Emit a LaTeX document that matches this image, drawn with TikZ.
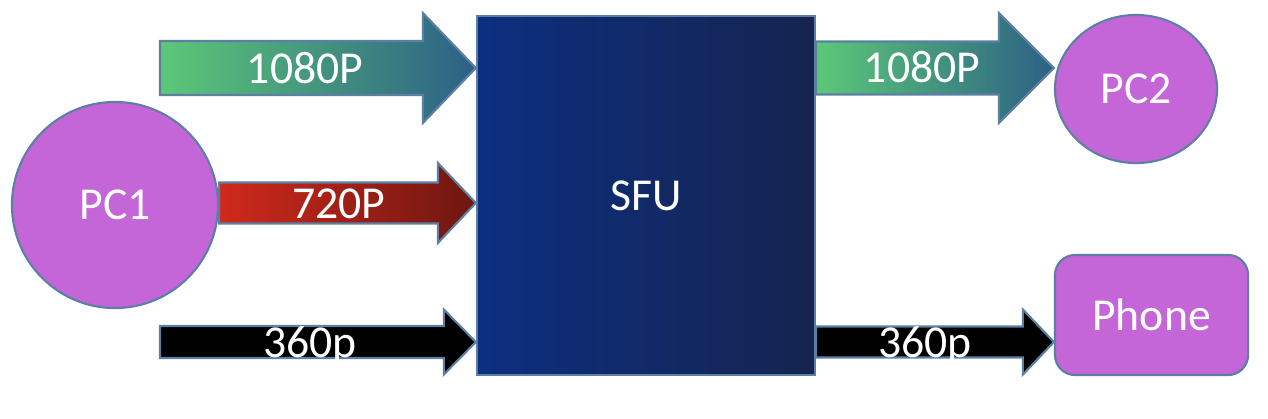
\documentclass[tikz,border=0pt]{standalone}
\usepackage{fontspec}
\setmainfont{Carlito}
\usetikzlibrary{shapes.geometric,calc}

\definecolor{paars}{HTML}{C566D8}
\definecolor{randblauw}{HTML}{5C7FA3}
\definecolor{sfulinks}{HTML}{0C2F80}
\definecolor{sfurechts}{HTML}{16244F}
\definecolor{groenlinks}{HTML}{5CC878}
\definecolor{groenmidden}{HTML}{4EAD7A}
\definecolor{groenrechts}{HTML}{2C6085}
\definecolor{roodlinks}{HTML}{D0291C}
\definecolor{roodmidden}{HTML}{B12418}
\definecolor{roodrechts}{HTML}{6E1610}

% blokpijl: stijl, begin, punt, halve breedte romp, halve breedte kop, lengte kop
\newcommand{\blokpijl}[6]{%
  \path[#1] ($(#2)+(0,-#4)$) -- ($(#3)+(-#6,-#4)$) -- ($(#3)+(-#6,-#5)$) -- (#3)
    -- ($(#3)+(-#6,#5)$) -- ($(#3)+(-#6,#4)$) -- ($(#2)+(0,#4)$) -- cycle;}

\begin{document}
\begin{tikzpicture}[x=0.01cm, y=-0.01cm,
    rand/.style={draw=randblauw, line width=0.6pt},
    tekst/.style={text=white, font=\fontsize{13}{15}\selectfont},
    apparaat/.style={rand, tekst, fill=paars, inner sep=0pt},
    pijltekst/.style={tekst, anchor=base, inner sep=0pt},
    groen/.style={rand, left color=groenlinks, middle color=groenmidden, right color=groenrechts},
    rood/.style={rand, left color=roodlinks, middle color=roodmidden, right color=roodrechts},
    zwart/.style={rand, fill=black}]
    \useasboundingbox (0,0) rectangle (1268,418);

    \node[rand, tekst, minimum width=3.38cm, minimum height=3.59cm,
          left color=sfulinks, right color=sfurechts] (SFU) at (646,195.5) {SFU};
    \node[apparaat, circle, minimum size=2.06cm] (PC1) at (115,205) {PC1};
    \node[apparaat, ellipse, minimum width=1.62cm, minimum height=1.48cm] (PC2) at (1136,89) {PC2};
    \node[apparaat, rounded corners=0.2cm, minimum width=1.93cm, minimum height=1.2cm] (Phone) at (1151.5,315) {Phone};

    % inkomend
    \coordinate (a) at (160,68);
    \coordinate (b) at ($(PC1.east)+(0,-2)$);
    \coordinate (c) at (160,342);
    \coordinate (aa) at (a -| SFU.west);
    \coordinate (bb) at (b -| SFU.west);
    \coordinate (cc) at (c -| SFU.west);
    \blokpijl{groen}{a}{aa}{27}{55}{53}
    \blokpijl{rood}{b}{bb}{20.5}{40}{38}
    \blokpijl{zwart}{c}{cc}{16}{32.5}{32}

    % uitgaand
    \coordinate (d) at (SFU.east |- a);
    \coordinate (e) at (SFU.east |- c);
    \coordinate (dd) at (d -| PC2.west);
    \coordinate (ee) at (e -| Phone.west);
    \blokpijl{groen}{d}{dd}{26.5}{55}{55}
    \blokpijl{zwart}{e}{ee}{15.5}{32.5}{31}

    \node[pijltekst] (in1080) at (305,83) {1080P};
    \node[pijltekst] (in720) at (339,218) {720P};
    \node[pijltekst] (in360) at (310,357) {360p};
    \node[pijltekst] (uit1080) at (922,82) {1080P};
    \node[pijltekst] (uit360) at (925,357) {360p};
\end{tikzpicture}
\end{document}
